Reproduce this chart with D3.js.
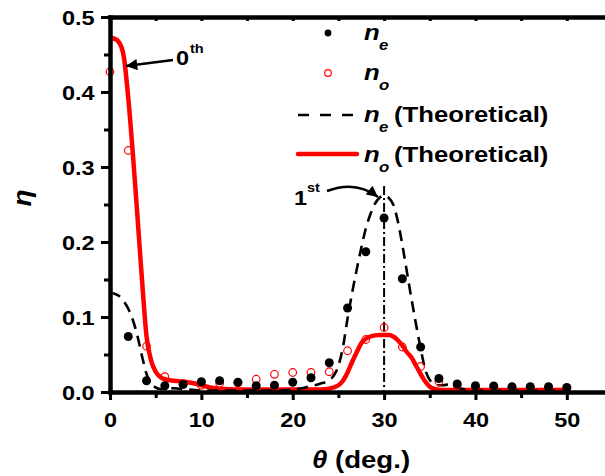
<!DOCTYPE html>
<html>
<head>
<meta charset="utf-8">
<script src="https://cdn.jsdelivr.net/npm/d3@7"></script>
<style>
  html, body { margin: 0; padding: 0; background: #fff; }
  svg { display: block; }
  text { font-family: "Liberation Sans", Arial, sans-serif; font-weight: bold; fill: #000; }
</style>
</head>
<body>
<svg id="chart" width="605" height="476"></svg>
<script>
// ---- data ----
const thetaTicks = [0, 10, 20, 30, 40, 50];
const thetaMinorTicks = [5, 15, 25, 35, 45, 55];
const etaTicks = [0.0, 0.1, 0.2, 0.3, 0.4, 0.5];
const etaMinorTicks = [0.05, 0.15, 0.25, 0.35, 0.45];

// measured efficiency, extraordinary polarisation (filled dots)
const neAngle = [2, 4, 6, 8, 10, 12, 14, 16, 18, 20, 22, 24, 26, 28, 30, 32, 34, 36, 38, 40, 42, 44, 46, 48, 50];
const neMeasured = [0.074, 0.015, 0.0084, 0.010, 0.0137, 0.015, 0.013, 0.0084, 0.009, 0.013, 0.019, 0.039, 0.112, 0.187, 0.232, 0.151, 0.060, 0.018, 0.0107, 0.0084, 0.008, 0.007, 0.007, 0.007, 0.006];

// measured efficiency, ordinary polarisation (open circles)
const noAngle = [0, 2, 4, 6, 8, 10, 12, 14, 16, 18, 20, 22, 24, 26, 28, 30, 32, 34, 36, 38, 40, 42, 44, 46, 48, 50];
const noMeasured = [0.427, 0.322, 0.061, 0.0204, 0.011, 0.009, 0.0116, 0.012, 0.017, 0.0236, 0.026, 0.026, 0.027, 0.055, 0.070, 0.086, 0.060, 0.034, 0.0137, 0.009, 0.006, 0.006, 0.006, 0.006, 0.006, 0.005];

// theoretical curves
const neTheoryAngle = [0, 0.5, 1, 1.5, 2, 2.5, 3, 3.5, 4, 4.5, 5, 5.5, 6, 7, 8, 9, 10, 12, 14, 16, 18, 20, 21, 22, 23, 24, 24.5, 25, 25.5, 26, 26.5, 27, 27.5, 28, 28.5, 29, 29.5, 30, 30.5, 31, 31.5, 32, 32.5, 33, 33.5, 34, 34.5, 35, 35.5, 36, 36.5, 37, 37.5, 38, 39, 40, 45, 50];
const neTheory = [0.132, 0.131, 0.128, 0.121, 0.111, 0.096, 0.075, 0.048, 0.024, 0.011, 0.006, 0.004, 0.004, 0.005, 0.004, 0.003, 0.002, 0.002, 0.002, 0.002, 0.002, 0.003, 0.005, 0.008, 0.011, 0.016, 0.022, 0.035, 0.060, 0.098, 0.132, 0.163, 0.192, 0.218, 0.237, 0.251, 0.259, 0.262, 0.259, 0.250, 0.228, 0.196, 0.160, 0.124, 0.090, 0.058, 0.030, 0.016, 0.011, 0.009, 0.009, 0.010, 0.009, 0.006, 0.003, 0.002, 0.002, 0.002];

const noTheoryAngle = [0, 0.5, 1, 1.5, 2, 2.5, 3, 3.5, 4, 4.5, 5, 5.5, 6, 7, 8, 9, 10, 11, 12, 14, 16, 18, 20, 22, 23, 24, 25, 25.5, 26, 26.5, 27, 27.5, 28, 28.5, 29, 29.5, 30, 30.5, 31, 31.5, 32, 32.5, 33, 33.5, 34, 34.5, 35, 35.5, 36, 37, 40, 45, 50];
const noTheory = [0.472, 0.471, 0.466, 0.448, 0.392, 0.318, 0.235, 0.150, 0.074, 0.042, 0.027, 0.020, 0.017, 0.015, 0.014, 0.012, 0.009, 0.006, 0.004, 0.0035, 0.0035, 0.0035, 0.0035, 0.0035, 0.0035, 0.0045, 0.009, 0.015, 0.026, 0.040, 0.053, 0.065, 0.071, 0.074, 0.0755, 0.076, 0.076, 0.076, 0.074, 0.069, 0.062, 0.053, 0.046, 0.035, 0.024, 0.014, 0.007, 0.004, 0.003, 0.0027, 0.0027, 0.0027, 0.0027];

const legendLabels = ["(Theoretical)", "(Theoretical)"];

// ---- layout ----
const svg = d3.select("#chart");
const x = d3.scaleLinear().domain([0, 55]).range([110, 612.5]);
const y = d3.scaleLinear().domain([0, 0.5]).range([392, 17]);
const SX = 1.12; // horizontal widening of glyphs

function label(g, px, py, str, size, opts = {}) {
  return g.append("text")
    .attr("transform", `translate(${px},${py}) scale(${opts.sx || SX},1)`)
    .attr("font-size", size)
    .attr("font-style", opts.italic ? "italic" : "normal")
    .attr("text-anchor", opts.anchor || "start")
    .text(str);
}

// ---- plot marks ----
const plot = svg.append("g");

// dash-dot guide at the first-order peak
plot.append("line")
  .attr("x1", x(30)).attr("x2", x(30))
  .attr("y1", 186).attr("y2", y(0))
  .attr("stroke", "#000").attr("stroke-width", 2)
  .attr("stroke-dasharray", "9,3,2,3");

const lineGen = d3.line().curve(d3.curveMonotoneX);

plot.append("path")
  .attr("d", lineGen(noTheoryAngle.map((a, i) => [x(a), y(noTheory[i])])))
  .attr("fill", "none").attr("stroke", "#ff0000").attr("stroke-width", 4.5)
  .attr("stroke-linejoin", "round");

plot.append("path")
  .attr("d", lineGen(neTheoryAngle.map((a, i) => [x(a), y(neTheory[i])])))
  .attr("fill", "none").attr("stroke", "#000").attr("stroke-width", 2.6)
  .attr("stroke-dasharray", "11,7");

plot.selectAll("circle.no")
  .data(noAngle.map((a, i) => [a, noMeasured[i]]))
  .join("circle").attr("class", "no")
  .attr("cx", d => x(d[0])).attr("cy", d => y(d[1])).attr("r", 3.8)
  .attr("fill", "none").attr("stroke", "#ff0000").attr("stroke-width", 1.2);

plot.selectAll("circle.ne")
  .data(neAngle.map((a, i) => [a, neMeasured[i]]))
  .join("circle").attr("class", "ne")
  .attr("cx", d => x(d[0])).attr("cy", d => y(d[1])).attr("r", 4.5)
  .attr("fill", "#000");

// ---- axes ----
function styleAxis(g) {
  g.select(".domain").attr("stroke", "#000").attr("stroke-width", 4.5).attr("stroke-linecap", "square");
  g.selectAll(".tick line").attr("stroke", "#000").attr("stroke-width", 3);
}

const bottomAxis = svg.append("g").attr("transform", `translate(0,${y(0)})`)
  .call(d3.axisBottom(x).tickValues(thetaTicks).tickSize(8).tickSizeOuter(0).tickPadding(12).tickFormat(d3.format("d")));
styleAxis(bottomAxis);
bottomAxis.selectAll(".tick text").attr("font-size", 21).attr("font-family", null)
  .attr("transform", `scale(${SX},1)`);
svg.append("g").attr("transform", `translate(0,${y(0)})`)
  .call(d3.axisBottom(x).tickValues(thetaMinorTicks).tickSize(6).tickFormat(""))
  .call(g => { g.select(".domain").remove(); styleAxis(g); });

const topAxis = svg.append("g").attr("transform", `translate(0,${y(0.5)})`)
  .call(d3.axisTop(x).tickValues(thetaTicks.concat(thetaMinorTicks)).tickSize(-4).tickSizeOuter(0).tickFormat(""));
styleAxis(topAxis);

const leftAxis = svg.append("g").attr("transform", `translate(${x(0)},0)`)
  .call(d3.axisLeft(y).tickValues(etaTicks).tickSize(9).tickSizeOuter(0).tickPadding(3).tickFormat(d3.format(".1f")));
styleAxis(leftAxis);
leftAxis.selectAll(".tick text").attr("font-size", 21).attr("font-family", null)
  .attr("dy", "0.36em").attr("transform", `translate(-2,0) scale(${SX},1)`);
svg.append("g").attr("transform", `translate(${x(0)},0)`)
  .call(d3.axisLeft(y).tickValues(etaMinorTicks).tickSize(6).tickFormat(""))
  .call(g => { g.select(".domain").remove(); styleAxis(g); });

// axis titles
svg.append("text")
  .attr("transform", `translate(31,198) rotate(-90) scale(${SX},1)`)
  .attr("font-size", 25).attr("font-style", "italic")
  .attr("text-anchor", "middle").text("η");

const xt = svg.append("text")
  .attr("transform", `translate(361,468) scale(1.15,1)`)
  .attr("font-size", 24).attr("text-anchor", "middle");
xt.append("tspan").attr("font-style", "italic").text("θ");
xt.append("tspan").text(" (deg.)");

// ---- legend ----
const leg = svg.append("g");
leg.append("circle").attr("cx", 328).attr("cy", 33).attr("r", 3.4).attr("fill", "#000");
leg.append("circle").attr("cx", 328).attr("cy", 73).attr("r", 3.3)
  .attr("fill", "none").attr("stroke", "#ff0000").attr("stroke-width", 1.2);
leg.append("line").attr("x1", 298).attr("x2", 357).attr("y1", 115).attr("y2", 115)
  .attr("stroke", "#000").attr("stroke-width", 2.6).attr("stroke-dasharray", "11,11");
leg.append("line").attr("x1", 298).attr("x2", 357).attr("y1", 154).attr("y2", 154)
  .attr("stroke", "#ff0000").attr("stroke-width", 4.5).attr("stroke-linecap", "round");

const rows = [
  { n: 40, sub: "e" },
  { n: 80, sub: "o" },
  { n: 122, sub: "e", extra: legendLabels[0] },
  { n: 162, sub: "o", extra: legendLabels[1] }
];
rows.forEach(r => {
  label(leg, 364, r.n, "n", 23, { italic: true });
  label(leg, 379, r.n + 10, r.sub, 15, { italic: true });
  if (r.extra) label(leg, 394, r.n, r.extra, 22, { sx: 1.17 });
});

// ---- annotations ----
const defs = svg.append("defs");
defs.append("marker").attr("id", "head")
  .attr("viewBox", "0 0 10 10").attr("refX", 10).attr("refY", 5)
  .attr("markerWidth", 5.5).attr("markerHeight", 4.5).attr("markerUnits", "strokeWidth")
  .attr("orient", "auto")
  .append("path").attr("d", "M0,0 L10,5 L0,10 Z").attr("fill", "#000");

svg.append("line").attr("x1", 173).attr("y1", 60).attr("x2", 126).attr("y2", 66)
  .attr("stroke", "#000").attr("stroke-width", 2.5).attr("marker-end", "url(#head)");
label(svg, 176, 65, "0", 21);
label(svg, 190, 53, "th", 13);

svg.append("path").attr("d", "M327,191 Q356,180 378,197")
  .attr("fill", "none").attr("stroke", "#000").attr("stroke-width", 2.5).attr("marker-end", "url(#head)");
label(svg, 294, 205, "1", 21);
label(svg, 307, 192, "st", 13);
</script>
</body>
</html>
